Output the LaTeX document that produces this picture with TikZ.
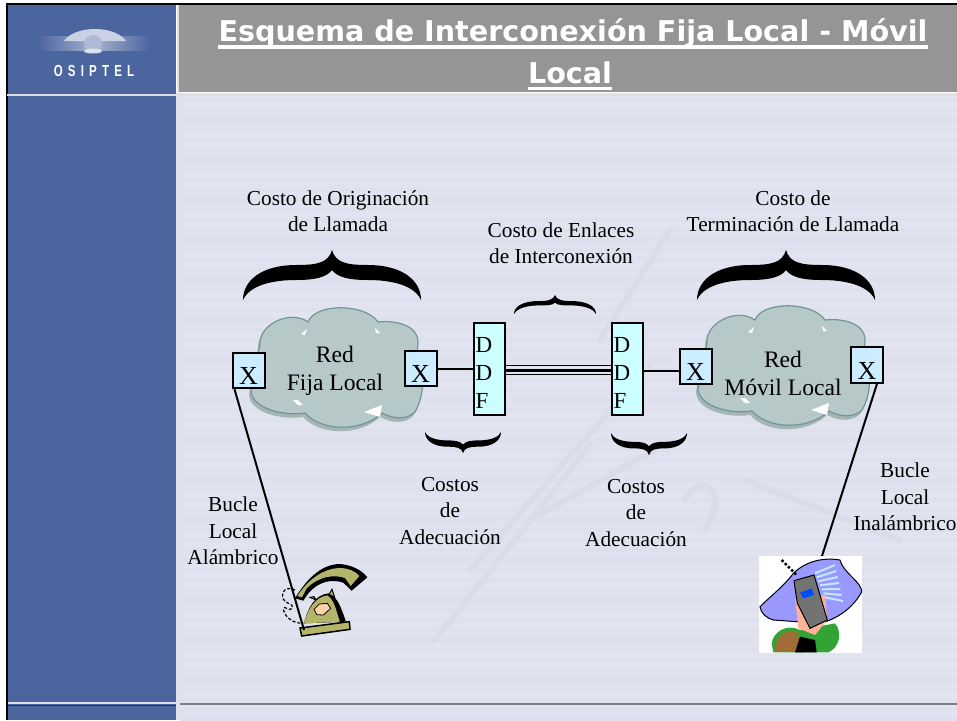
\documentclass[tikz,border=0pt]{standalone}
\usepackage{fontspec}
\setmainfont{Liberation Serif}
\newfontfamily\titlefont{DejaVu Sans}
\newfontfamily\logofont[LetterSpace=45]{Liberation Sans}
\usepackage{tikz}

\definecolor{panelblue}{HTML}{4B659F}
\definecolor{bargray}{HTML}{959595}
\definecolor{pagelight}{HTML}{E1E4F0}
\definecolor{pagestripe}{HTML}{DEE1ED}
\definecolor{cloudfill}{HTML}{B7C8C9}
\definecolor{cloudline}{HTML}{6F9698}
\definecolor{xfill}{HTML}{CCECFF}
\definecolor{ddffill}{HTML}{CCFFFF}
\definecolor{olive}{HTML}{B5B56A}

\newcommand{\cloudoutline}{(0,0) .. controls (-2,-20) and (30,-36) .. (48,-23) .. controls (55,-42) and (105,-42) .. (118,-23) .. controls (135,-25) and (158,-20) .. (158,-3) .. controls (158,3) and (157,8) .. (155,13) .. controls (165,25) and (165,50) .. (155,67) .. controls (148,74) and (135,75) .. (122,68) .. controls (102,87) and (62,87) .. (45,68) .. controls (18,72) and (-15,60) .. (-8,40) .. controls (-12,25) and (-2,13) .. (0,0) -- cycle}
\tikzset{
    xbox/.style={draw, line width=2pt, fill=xfill, inner sep=0pt, minimum width=32pt, text height=32pt, text depth=3.5pt, font=\fontsize{26}{26}\selectfont},
    ddfbox/.style={draw, line width=2pt, fill=ddffill, inner xsep=2pt, inner ysep=0pt, minimum height=92pt, text width=27pt, align=left, font=\fontsize{23}{28}\selectfont},
    cost/.style={align=center, inner sep=0pt, font=\fontsize{21.3}{26.5}\selectfont},
    redlabel/.style={align=center, inner sep=0pt, font=\fontsize{23.6}{28}\selectfont},
    titletext/.style={text=white, inner sep=0pt, text depth=5pt, font=\titlefont\bfseries\fontsize{28.6}{30}\selectfont},
    titlerule/.style={white, line width=3.5pt},
    wire/.style={line width=2pt},
    cloudpic/.pic={
        \fill[black!10!cloudfill, shift={(-2,4)}] \cloudoutline;
        \draw[cloudline, fill=cloudfill, line width=1.2pt] \cloudoutline;
        \fill[white] (41,-11) -- (47,-16) -- (45,-10) -- cycle;
        \fill[white] (115,-17) -- (120,-12) -- (116,-12) -- cycle;
        \fill[white] (33,55) -- (38,55) -- (43,60) -- (38,60) -- cycle;
        \fill[white] (104,67) -- (122,60) -- (120,72) -- cycle;
    },
}
\newcommand{\costbrace}[6]{% x, y, xscale, yscale, thick, thin
    \fill[shift={(#1,#2)}, xscale=#3, yscale=#4] (0,1) .. controls (0,0.62) and (0.1,#5) .. (0.3,#5) .. controls (0.42,#5) and (0.48,0.25) .. (0.5,0) .. controls (0.52,0.25) and (0.58,#5) .. (0.7,#5) .. controls (0.9,#5) and (1,0.62) .. (1,1) .. controls (0.98,0.82) and (0.9,#6) .. (0.7,#6) .. controls (0.6,#6) and (0.53,0.55) .. (0.5,0.4) .. controls (0.47,0.55) and (0.4,#6) .. (0.3,#6) .. controls (0.1,#6) and (0.02,0.82) .. (0,1) -- cycle;
}

\begin{document}
\begin{tikzpicture}[x=1pt, y=-1pt]
    \useasboundingbox (0,0) rectangle (957,720);
    \fill[white] (0,0) rectangle (957,720);

    % panels
    \fill[pagelight] (176,93) rectangle (957,720);
    \foreach \i in {0,...,62}
        \fill[pagestripe] (180,98+10*\i) rectangle (957,102+10*\i);
    \fill[panelblue] (7,5) rectangle (176,720);
    \fill[bargray] (179,5) rectangle (957,92);
    \draw[black, line width=1.5pt] (7,720) -- (7,4) -- (957,4);
    \draw[white!80!panelblue, line width=1.5pt] (178,5) -- (178,720);
    \draw[white!70!bargray, line width=2pt] (7,95) -- (957,95);
    \draw[white!80!panelblue, line width=1.5pt] (8,703) -- (176,703);
    \draw[black!45!pagelight, line width=1.5pt] (180,704) -- (957,704);
    \draw[black!50!panelblue, line width=1pt] (8,705) -- (176,705);

    % watermark
    \begin{scope}[black!3!pagelight, line width=6pt, line cap=round]
        \draw (435,640) -- (590,445);
        \draw (470,570) -- (650,365);
        \draw (530,520) -- (655,450);
        \draw (685,500) .. controls (700,470) and (730,490) .. (705,530);
        \draw (745,480) -- (900,540);
        \draw (600,340) -- (670,230);
    \end{scope}

    % logo
    \shade[left color=panelblue, right color=panelblue, middle color=white!50!panelblue] (38,36) rectangle (150,50);
    \fill[white!70!panelblue] (64,41) .. controls (75,25) and (115,25) .. (126,41) -- cycle;
    \fill[white!55!panelblue] (93,44) circle (9);
    \fill[white!80!panelblue] (93,51) ellipse (9 and 2.5);
    \node[text=white, inner sep=0pt, xscale=.72] (logo) at (94,71) {\logofont\bfseries\fontsize{16}{16}\selectfont OSIPTEL};

    % title
    \node[titletext] (titleA) at (573,33) {Esquema de Interconexión Fija Local - Móvil};
    \node[titletext] (titleB) at (570,75) {Local};
    \draw[titlerule] (titleA.south west) -- (titleA.south east);
    \draw[titlerule] (titleB.south west) -- (titleB.south east);

    % clouds
    \pic at (260,345) {cloudpic};
    \pic at (707,343) {cloudpic};
    \node[redlabel] (fija) at (335,371) {Red\\Fija Local};
    \node[redlabel] (movil) at (783,373) {Red\\Móvil Local};

    % braces
    \costbrace{243}{250}{178}{50}{0.3}{0.6}
    \costbrace{697}{250}{178}{50}{0.3}{0.6}
    \costbrace{514}{295}{82}{19}{0.32}{0.55}
    \costbrace{425}{453}{76}{-21}{0.3}{0.6}
    \costbrace{611}{455}{76}{-22}{0.3}{0.6}

    % cost labels
    \node[cost] (orig) at (338,211) {Costo de Originación\\de Llamada};
    \node[cost] (term) at (793,211) {Costo de\\Terminación de Llamada};
    \node[cost] (enl) at (561,243) {Costo de Enlaces\\de Interconexión};
    \node[cost] (adA) at (450,511) {Costos\\de\\Adecuación};
    \node[cost] (adB) at (636,513) {Costos\\de\\Adecuación};
    \node[cost] (bucA) at (233,531) {Bucle\\Local\\Alámbrico};
    \node[cost] (bucB) at (905,497) {Bucle\\Local\\Inalámbrico};

    % boxes
    \node[xbox] (xA) at (248.5,370.5) {X};
    \node[xbox] (xB) at (420.5,368.5) {X};
    \node[xbox] (xC) at (695.5,366.5) {X};
    \node[xbox] (xD) at (867,365) {X};
    \node[ddfbox] (ddfA) at (489,368.5) {\rule{0pt}{24pt}D\\D\\F};
    \node[ddfbox] (ddfB) at (627,368.5) {\rule{0pt}{24pt}D\\D\\F};

    \coordinate (fone) at (304,630);
    \coordinate (cel) at (822,556);

    % links
    \draw[wire] (xB.east) -- (ddfA.west);
    \draw[wire] ([yshift=-2pt]ddfB.east) -- ([yshift=-4pt]xC.west);
    \draw[line width=1pt] ([yshift=3.5pt]ddfA.east) -- ([yshift=3.5pt]ddfB.west);
    \draw[line width=3.5pt] ([yshift=-2pt]ddfA.east) -- ([yshift=-2pt]ddfB.west); % thick one
    \draw[line width=1pt] ([yshift=-6pt]ddfA.east) -- ([yshift=-6pt]ddfB.west);

    % telephone
    \begin{scope}[shift={(240,540)}, scale=1/3]
        \draw[line width=1.2pt, densely dashed] (165,150) .. controls (125,130) and (115,180) .. (145,190) .. controls (165,195) and (160,215) .. (140,205) .. controls (120,190) and (130,250) .. (190,250);
        \fill[black] (165,175) .. controls (195,125) and (240,72) .. (300,72) .. controls (335,75) and (365,90) .. (382,112) -- (335,152) -- (310,128) .. controls (280,118) and (240,120) .. (205,160) -- (190,182) -- cycle;
        \fill[olive] (172,168) .. controls (200,125) and (245,85) .. (300,84) .. controls (325,85) and (345,92) .. (358,108) -- (332,138) -- (315,114) .. controls (280,102) and (235,110) .. (200,145) -- (186,172) -- cycle;
        \draw[line width=1pt, fill=olive] (210,172) -- (222,170) -- (228,180) -- cycle;
        \draw[line width=1pt, fill=olive] (266,165) -- (276,148) -- (284,172) -- cycle;
        \fill[black] (192,250) .. controls (205,200) and (225,165) .. (265,160) .. controls (295,170) and (305,210) .. (318,245) -- cycle;
        \fill[olive] (192,250) .. controls (205,205) and (225,172) .. (262,166) .. controls (285,180) and (290,220) .. (300,245) -- cycle;
        \draw[line width=.8pt, fill=orange!35!white] (222,208) -- (238,192) -- (262,190) -- (272,205) -- (250,225) -- (230,224) -- cycle;
        \draw[line width=1.5pt, fill=olive] (180,264) -- (328,245) -- (330,268) -- (185,288) -- cycle;
    \end{scope}

    % line goes over the telephone
    \draw[wire] ([xshift=-14pt]xA.south) -- (fone);
    \draw[wire] ([xshift=10pt]xD.south) -- (cel);

    % mobile
    \begin{scope}[shift={(740,540)}, scale=1/3]
        \fill[white] (57,48) rectangle (366,338);
        \draw[line width=1pt, fill=blue!40!white] (60,200) .. controls (90,170) and (130,140) .. (160,100) .. controls (190,70) and (240,50) .. (300,60) .. controls (310,100) and (365,125) .. (365,155) .. controls (345,195) and (300,235) .. (240,250) -- (100,240) .. controls (80,235) and (62,220) .. (60,200) -- cycle;
        \foreach \k in {0,...,6}
            \draw[cyan!25!white, line width=2pt] (225+5*\k,100+12*\k) -- (285+4*\k,75+18*\k);
        \draw[line width=2.5pt, dotted] (125,60) -- (170,105);
        \fill[green!55!black!80!white] (95,310) .. controls (100,275) and (140,250) .. (180,270) -- (285,250) .. controls (310,280) and (295,325) .. (265,337) -- (100,337) -- cycle;
        \fill[brown!85!black] (105,335) .. controls (105,295) and (130,265) .. (170,275) -- (190,337) -- cycle;
        \fill[black] (165,337) -- (180,290) -- (225,300) -- (230,337) -- cycle;
        \fill[pink!80!orange] (165,175) -- (255,165) -- (262,240) -- (225,285) -- (175,265) -- cycle;
        \draw[line width=1pt, fill=black!55] (162,122) -- (222,105) -- (262,240) -- (210,265) -- (172,190) -- cycle;
        \fill[blue!70!cyan] (180,158) -- (215,145) -- (222,165) -- (190,175) -- cycle;
    \end{scope}
\end{tikzpicture}
\end{document}
